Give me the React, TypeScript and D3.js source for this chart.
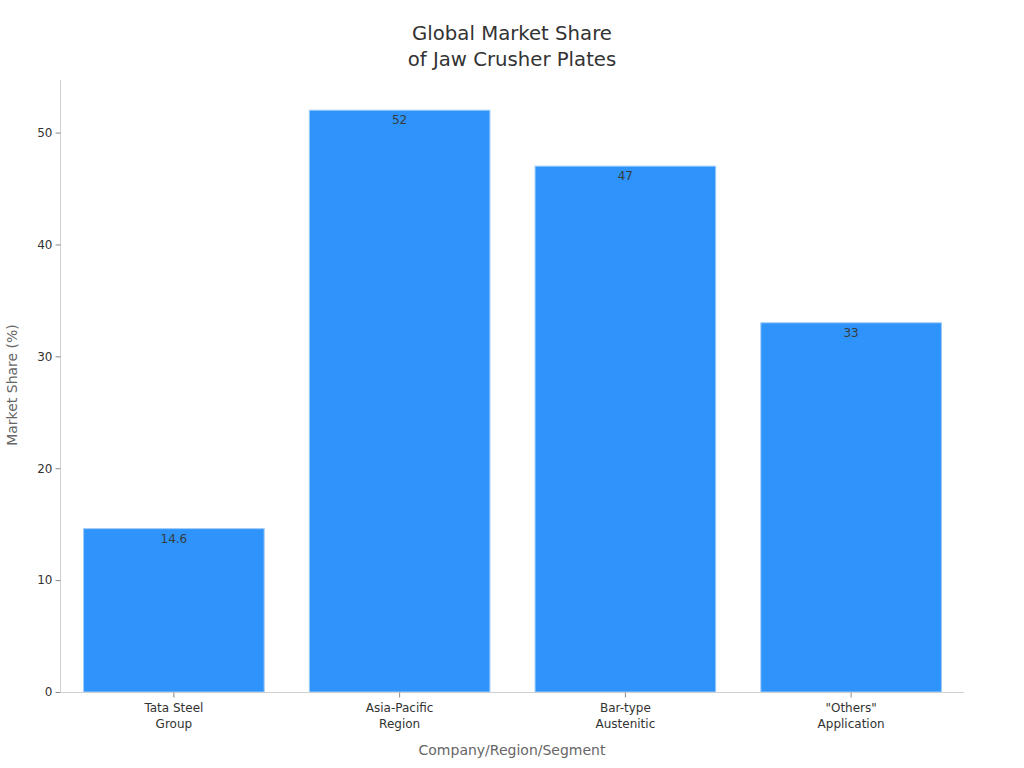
import { useEffect, useRef } from 'react';
import * as d3 from 'd3';

// chart data
const categories = [['Tata Steel', 'Group'], ['Asia-Pacific', 'Region'], ['Bar-type', 'Austenitic'], ['"Others"', 'Application']];
const shares = [14.6, 52, 47, 33];
const yTicks = [0, 10, 20, 30, 40, 50];

const W = 1024;
const H = 768;
const margin = { top: 80, right: 60, bottom: 76, left: 60 };

export default function App() {
  const svgRef = useRef<SVGSVGElement>(null);

  useEffect(() => {
    if (!svgRef.current) return;
    const svg = d3.select(svgRef.current);
    svg.selectAll('*').remove();
    svg.style('font-family', '"DejaVu Sans", sans-serif');

    const keys = categories.map((c) => c.join(' '));
    const x = d3.scaleBand<string>()
      .domain(keys)
      .range([margin.left + 1, W - margin.right])
      .paddingInner(0.2)
      .paddingOuter(0.1);
    const y = d3.scaleLinear()
      .domain([0, 54.7])
      .range([H - margin.bottom, margin.top]);

    // title
    const title = svg.append('text')
      .attr('x', 512)
      .attr('text-anchor', 'middle')
      .attr('fill', '#333')
      .style('font-size', '19.7px');
    title.append('tspan').attr('x', 512).attr('y', 40).text('Global Market Share');
    title.append('tspan').attr('x', 512).attr('y', 66).text('of Jaw Crusher Plates');

    // bars
    svg.append('g')
      .selectAll('rect')
      .data(shares)
      .join('rect')
      .attr('x', (_d, i) => x(keys[i])!)
      .attr('y', (d) => y(d))
      .attr('width', x.bandwidth())
      .attr('height', (d) => y(0) - y(d))
      .attr('fill', '#2e93fa')
      .attr('stroke', '#9ccbf8')
      .attr('stroke-width', 1);

    // value labels
    svg.append('g')
      .selectAll('text')
      .data(shares)
      .join('text')
      .attr('x', (_d, i) => x(keys[i])! + x.bandwidth() / 2)
      .attr('y', (d) => y(d) + 14)
      .attr('text-anchor', 'middle')
      .attr('fill', '#373d3f')
      .style('font-size', '12px')
      .text((d) => String(d));

    // y axis
    const yAxis = svg.append('g')
      .attr('transform', `translate(${margin.left + 0.5},0)`)
      .call(d3.axisLeft(y).tickValues(yTicks).tickSize(5).tickPadding(3));
    yAxis.select('.domain').attr('stroke', '#d0d0d0').attr('d', `M0,${margin.top}V${y(0)}`);
    yAxis.selectAll('.tick line').attr('stroke', '#888');
    yAxis.selectAll('.tick text').attr('fill', '#333').style('font-size', '12px').style('font-family', '"DejaVu Sans", sans-serif');

    // x axis
    const xAxis = svg.append('g')
      .attr('transform', `translate(0,${y(0) + 0.5})`)
      .call(d3.axisBottom(x).tickSize(5).tickFormat(() => ''));
    xAxis.select('.domain').attr('stroke', '#d0d0d0').attr('d', `M${margin.left},0H${W - margin.right}`);
    xAxis.selectAll('.tick line').attr('stroke', '#888');

    svg.append('g')
      .selectAll('text')
      .data(categories)
      .join('text')
      .attr('text-anchor', 'middle')
      .attr('fill', '#333')
      .style('font-size', '12px')
      .each(function (d, i) {
        const cx = x(keys[i])! + x.bandwidth() / 2;
        d.forEach((line, j) => {
          d3.select(this).append('tspan').attr('x', cx).attr('y', 712 + j * 15.5).text(line);
        });
      });

    // axis titles
    svg.append('text')
      .attr('x', 512)
      .attr('y', 755)
      .attr('text-anchor', 'middle')
      .attr('fill', '#666')
      .style('font-size', '14px')
      .text('Company/Region/Segment');

    svg.append('text')
      .attr('transform', `translate(17,${385}) rotate(-90)`)
      .attr('text-anchor', 'middle')
      .attr('fill', '#666')
      .style('font-size', '14px')
      .text('Market Share (%)');
  }, []);

  return (
    <svg ref={svgRef} width={W} height={H} style={{ position: 'absolute', left: 0, top: 0, background: '#fff' }} />
  );
}
